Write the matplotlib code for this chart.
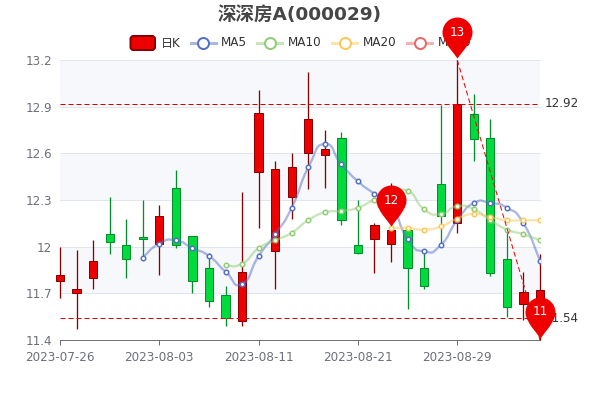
import matplotlib
matplotlib.use("Agg")
import matplotlib.pyplot as plt
import numpy as np
from matplotlib.lines import Line2D
from matplotlib.patches import FancyBboxPatch, PathPatch
from matplotlib.path import Path

plt.rcParams["font.family"] = ["DejaVu Sans", "Noto Sans CJK SC"]

PX = 72 / 100  # points per pixel at dpi 100

dates = [
    "2023-07-26", "2023-07-27", "2023-07-28", "2023-07-31", "2023-08-01",
    "2023-08-02", "2023-08-03", "2023-08-04", "2023-08-07", "2023-08-08",
    "2023-08-09", "2023-08-10", "2023-08-11", "2023-08-14", "2023-08-15",
    "2023-08-16", "2023-08-17", "2023-08-18", "2023-08-21", "2023-08-22",
    "2023-08-23", "2023-08-24", "2023-08-25", "2023-08-28", "2023-08-29",
    "2023-08-30", "2023-08-31", "2023-09-01", "2023-09-04", "2023-09-05",
]
opens = [
    11.78, 11.70, 11.80, 12.08, 12.01, 12.06, 12.02, 12.38, 12.07, 11.86,
    11.69, 11.52, 12.48, 11.97, 12.32, 12.60, 12.59, 12.70, 12.01, 12.05,
    12.02, 12.11, 11.86, 12.40, 12.15, 12.85, 12.70, 11.92, 11.63, 11.62,
]
closes = [
    11.82, 11.73, 11.91, 12.03, 11.92, 12.05, 12.20, 12.01, 11.78, 11.65,
    11.54, 11.84, 12.86, 12.50, 12.51, 12.82, 12.63, 12.17, 11.96, 12.14,
    12.11, 11.86, 11.75, 12.20, 12.92, 12.69, 11.83, 11.61, 11.71, 11.72,
]
highs = [
    12.00, 11.98, 12.04, 12.32, 12.18, 12.30, 12.27, 12.49, 12.07, 11.96,
    11.75, 12.35, 13.01, 12.55, 12.60, 13.12, 12.75, 12.74, 12.30, 12.15,
    12.41, 12.11, 11.96, 12.91, 13.20, 12.98, 12.82, 12.11, 11.84, 11.95,
]
lows = [
    11.67, 11.47, 11.73, 11.95, 11.80, 11.94, 11.82, 11.99, 11.70, 11.61,
    11.49, 11.49, 12.12, 11.73, 12.18, 12.37, 12.38, 12.14, 11.95, 11.83,
    11.90, 11.60, 11.73, 12.02, 12.09, 12.55, 11.81, 11.55, 11.53, 11.40,
]
ma5 = [
    11.93, 12.02, 12.04, 11.99, 11.94, 11.84, 11.76, 11.94, 12.08, 12.25,
    12.51, 12.66, 12.53, 12.42, 12.34, 12.27, 12.05, 11.97, 12.01, 12.17,
    12.28, 12.28, 12.25, 12.15, 11.91,
]
ma10 = [
    11.88, 11.89, 11.99, 12.04, 12.09, 12.17, 12.22, 12.23, 12.25, 12.30,
    12.32, 12.36, 12.24, 12.21, 12.26, 12.24, 12.17, 12.11, 12.08, 12.04,
]
ma20 = [12.12, 12.12, 12.11, 12.13, 12.18, 12.21, 12.19, 12.17, 12.17, 12.17]

y_ticks = [11.4, 11.7, 12, 12.3, 12.6, 12.9, 13.2]
y_labels = ["11.4", "11.7", "12", "12.3", "12.6", "12.9", "13.2"]
x_ticks = [0, 6, 12, 18, 24]

max_line = 12.92
min_line = 11.54
pins = [(24, 13.2), (20, 12.12), (29, 11.4)]

UP, UP_EDGE = "#ec0000", "#8a0000"
DOWN, DOWN_EDGE = "#00da3c", "#008f28"
BLUE, GREEN, YELLOW, PINK = "#5470c6", "#91cc75", "#fac858", "#ee6666"
AXIS = "#6e7079"
DASH = (0, (5, 3))


def smooth_path(xs, ys, k=0.3):
    # same kind of curve the line charts use: bezier through every point
    pts = np.column_stack([xs, ys])
    verts = [pts[0]]
    codes = [Path.MOVETO]
    for i in range(len(pts) - 1):
        prev = pts[max(i - 1, 0)]
        nxt = pts[min(i + 2, len(pts) - 1)]
        verts += [pts[i] + (pts[i + 1] - prev) * k,
                  pts[i + 1] - (nxt - pts[i]) * k,
                  pts[i + 1]]
        codes += [Path.CURVE4] * 3
    return Path(verts, codes)


def pin_marker():
    # tip just above the origin, head radius 15 px, centre 28 px above the origin
    arc = Path.arc(-35, 215)
    head = arc.vertices * 15 + [0, 28]
    verts = np.vstack([[[0, 2]], [[5, 9]], [[10, 14]], head, [[-10, 14]], [[-5, 9]], [[0, 2]]])
    codes = [Path.MOVETO] + [Path.CURVE4] * 3 + list(arc.codes[1:]) + [Path.CURVE4] * 3
    return Path(verts, codes)


def draw_ma(ax, values, color):
    xs = np.arange(len(dates) - len(values), len(dates))
    ax.add_patch(PathPatch(smooth_path(xs, values), fc="none", ec=color, lw=2.3 * PX,
                           alpha=0.5, zorder=5))
    ax.plot(xs, values, ls="none", marker="o", ms=4.5 * PX, mfc="white", mec=color,
            mew=1.5 * PX, zorder=6)


fig = plt.figure(figsize=(6, 4), dpi=100)
ax = fig.add_axes([0.1, 0.15, 0.8, 0.7])
ax.set_xlim(0, 29)
ax.set_ylim(11.4, 13.2)

for lo, hi in zip(y_ticks[1::2], y_ticks[2::2]):
    ax.axhspan(lo, hi, fc="#f6f8fc", ec="none", zorder=0)
for v in y_ticks[1:]:
    ax.axhline(v, color="#e0e6f1", lw=1 * PX, zorder=1, clip_on=False)

for i in range(len(dates)):
    up = closes[i] >= opens[i]
    face, edge = (UP, UP_EDGE) if up else (DOWN, DOWN_EDGE)
    ax.plot([i, i], [lows[i], highs[i]], color=edge, lw=1.3 * PX, zorder=3,
            clip_on=False, solid_capstyle="butt")
    ax.bar(i, abs(closes[i] - opens[i]), bottom=min(opens[i], closes[i]), width=0.5,
           color=face, edgecolor=edge, linewidth=1 * PX, zorder=4, clip_on=False)

draw_ma(ax, ma5, BLUE)
draw_ma(ax, ma10, GREEN)
draw_ma(ax, ma20, YELLOW)

ax.axhline(max_line, color="#e00000", lw=1 * PX, ls=DASH, zorder=7)
ax.axhline(min_line, color="#f00000", lw=1 * PX, ls=DASH, zorder=7)
ax.plot([pins[0][0], pins[2][0]], [pins[0][1], pins[2][1]], color="#f00000", lw=1 * PX,
        ls=DASH, zorder=7, clip_on=False)
for v in (max_line, min_line):
    ax.annotate(f"{v:.2f}", (1, v), xycoords=("axes fraction", "data"),
                xytext=(5 * PX, 0), textcoords="offset points", va="center", ha="left",
                fontsize=12 * PX, color="#333333", zorder=8)

marker = pin_marker()
for x, y in pins:
    # marker height is twice the largest coordinate: 43 px -> 86 px
    ax.plot([x], [y], ls="none", marker=marker, ms=86 * PX, mfc="#ee0000", mec="none",
            clip_on=False, zorder=9)
    ax.annotate(f"{y:.0f}", (x, y), xytext=(0, 28 * PX), textcoords="offset points",
                ha="center", va="center", color="white", fontsize=12 * PX, zorder=10)

for side in ("top", "left", "right"):
    ax.spines[side].set_visible(False)
ax.spines["bottom"].set_color(AXIS)
ax.spines["bottom"].set_linewidth(1 * PX)
ax.set_yticks(y_ticks, y_labels)
ax.set_xticks(x_ticks, [dates[i] for i in x_ticks])
ax.tick_params(axis="y", length=0, pad=8 * PX, labelsize=12 * PX, labelcolor=AXIS)
ax.tick_params(axis="x", length=5 * PX, width=1 * PX, color=AXIS, pad=6 * PX,
               labelsize=12 * PX, labelcolor=AXIS)
ax.set_axisbelow(False)

fig.text(0.5, 1 - 15.5 / 400, "深深房A(000029)", ha="center", va="center",
         fontsize=18.5 * PX, fontweight="bold", color="#464646")

# legend, laid out in figure pixels
legend = fig.add_axes([0, 0, 1, 1], zorder=20)
legend.set_xlim(0, 600)
legend.set_ylim(400, 0)
legend.axis("off")
legend.add_patch(FancyBboxPatch((130.5, 36), 24.5, 14, boxstyle="round,pad=0,rounding_size=3",
                                fc=UP, ec=UP_EDGE, lw=2 * PX, zorder=2))
legend.text(161, 43, "日K", va="center", ha="left", fontsize=12 * PX, color="#333333", zorder=2)
for left, label, color in [(190.5, "MA5", BLUE), (257, "MA10", GREEN),
                           (332, "MA20", YELLOW), (407, "MA30", PINK)]:
    legend.add_line(Line2D([left, left + 25], [43, 43], color=color, lw=3 * PX, alpha=0.5, zorder=2))
    legend.plot([left + 12.5], [43], ls="none", marker="o", ms=11 * PX, mfc="white", mec=color,
                mew=2 * PX, zorder=2)
    legend.text(left + 30.5, 43, label, va="center", ha="left", fontsize=12 * PX,
                color="#333333", zorder=2)

# the pins sit above the legend, as in the original
ax.set_zorder(30)
ax.patch.set_alpha(0)

fig.savefig("out.png", dpi=100)
